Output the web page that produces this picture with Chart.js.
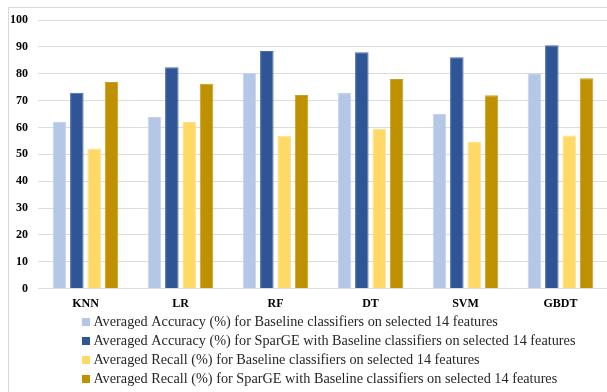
<!DOCTYPE html>
<html>
<head>
<meta charset="utf-8">
<script src="https://cdn.jsdelivr.net/npm/chart.js@4"></script>
<style>
  html, body { margin: 0; padding: 0; background: #fff; overflow: hidden; width: 607px; height: 392px; }
  #frame { position: absolute; left: 8px; top: 7px; width: 700px; height: 500px;
           border-left: 1px solid #dadada; border-top: 1px solid #dadada; }
  #chart { position: absolute; left: 0; top: 0; }
</style>
</head>
<body>
<div id="frame"></div>
<canvas id="chart" width="620" height="396"></canvas>
<script>
// Classifiers on the x axis
const categories = ['KNN', 'LR', 'RF', 'DT', 'SVM', 'GBDT'];

// Averaged scores (%) per classifier
const accuracyBaseline = [62.0, 63.9, 80.3, 72.8, 65.0, 80.2];
const accuracySparGE   = [72.9, 82.4, 88.5, 88.0, 86.1, 90.6];
const recallBaseline   = [52.2, 62.0, 56.9, 59.5, 54.7, 57.0];
const recallSparGE     = [76.9, 76.3, 72.1, 78.0, 72.0, 78.3];

const seriesLabels = [
  'Averaged Accuracy (%) for Baseline classifiers on selected 14 features',
  'Averaged Accuracy (%) for SparGE with Baseline classifiers on selected 14 features',
  'Averaged Recall (%) for Baseline classifiers on selected 14 features',
  'Averaged Recall (%) for SparGE with Baseline classifiers on selected 14 features'
];

const yMin = 0, yMax = 100, yStep = 10;

const fills   = ['#b4c7e7', '#2f5597', '#ffd966', '#bf9000'];
const borders = ['#c3d2ec', '#4a6aa6', '#ffe085', '#c89f1f'];

const serif = "'Liberation Serif', 'Times New Roman', serif";

// small square swatches for the legend
function swatch(color) {
  const c = document.createElement('canvas');
  c.width = 8; c.height = 8;
  const g = c.getContext('2d');
  g.fillStyle = color;
  g.fillRect(0, 0, 8, 8);
  return c;
}
const swatches = fills.map(swatch);

// indent the legend rows under the plot
const legendInset = {
  id: 'legendInset',
  afterLayout(chart) {
    if (chart.legend) chart.legend.left = 80.5;
  }
};

const values = [accuracyBaseline, accuracySparGE, recallBaseline, recallSparGE];

new Chart(document.getElementById('chart'), {
  type: 'bar',
  data: {
    labels: categories,
    datasets: values.map((v, i) => ({
      label: seriesLabels[i],
      data: v,
      backgroundColor: fills[i],
      borderColor: borders[i],
      borderWidth: 1,
      categoryPercentage: 0.73,
      barPercentage: 0.78
    }))
  },
  options: {
    responsive: false,
    animation: false,
    devicePixelRatio: 1,
    layout: { padding: { top: 20, right: 12, bottom: 0, left: 0 } },
    scales: {
      x: {
        grid: { display: false, drawTicks: true, tickLength: 9 },
        border: { display: false },
        ticks: {
          padding: -1,
          maxRotation: 0,
          color: '#000',
          font: { family: serif, size: 12, weight: 'bold' }
        }
      },
      y: {
        min: yMin,
        max: yMax,
        afterFit(scale) { scale.width = 38; },
        grid: { color: '#dcdcdc', lineWidth: 1, drawTicks: false },
        border: { display: false },
        ticks: {
          stepSize: yStep,
          padding: 10,
          color: '#000',
          font: { family: serif, size: 12, weight: 'bold' }
        }
      }
    },
    plugins: {
      tooltip: { enabled: false },
      legend: {
        position: 'bottom',
        align: 'start',
        labels: {
          color: '#262626',
          font: { family: serif, size: 14.25 },
          padding: 4.75,
          usePointStyle: true,
          pointStyleWidth: 1,
          boxHeight: 8,
          generateLabels(chart) {
            const items = Chart.defaults.plugins.legend.labels.generateLabels(chart);
            items.forEach((it, i) => { it.pointStyle = swatches[i]; });
            return items;
          }
        }
      }
    }
  },
  plugins: [legendInset]
});
</script>
</body>
</html>
